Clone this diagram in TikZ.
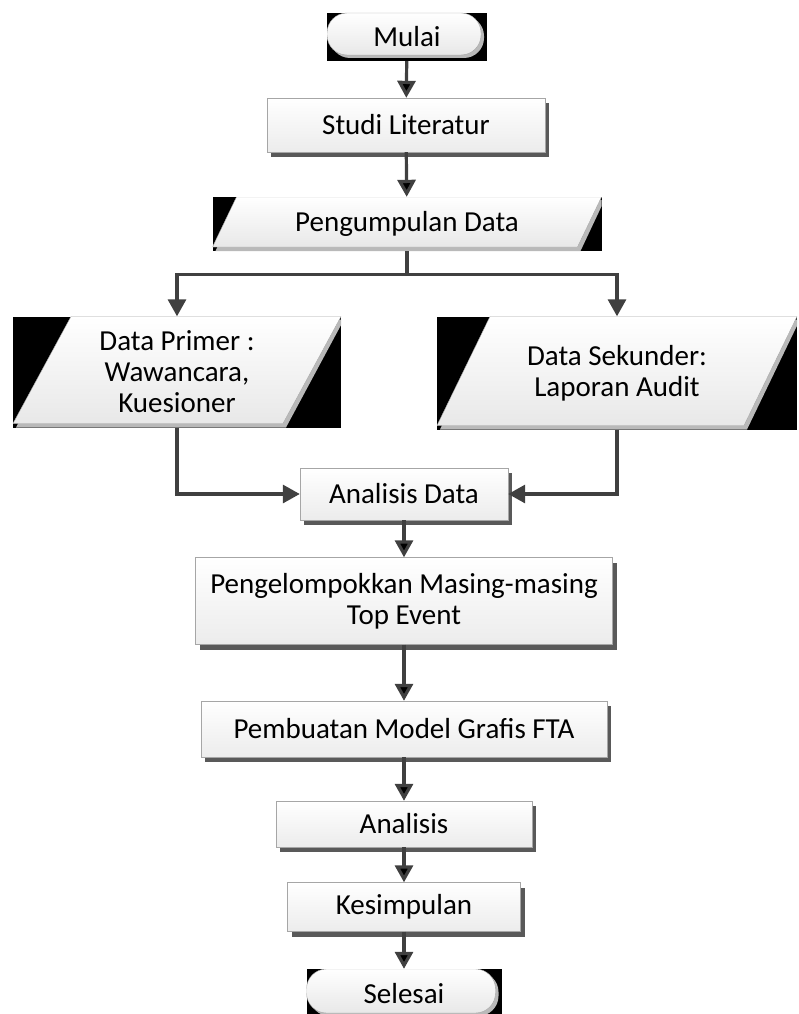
\documentclass[tikz,border=0pt]{standalone}
\usepackage{fontspec}
\setmainfont{Carlito}
\usetikzlibrary{shapes,arrows.meta,shadows}

\tikzset{
  flow/.style={draw=black!75, line width=3.2pt, -{Triangle[length=17pt,width=18pt]}},
  stepbox/.style={rectangle, draw=gray!70, top color=white, bottom color=gray!15,
    inner sep=0pt, align=center,
    drop shadow={shadow xshift=4pt, shadow yshift=-5pt, fill=black!65, opacity=1}},
  iobox/.style={rectangle, fill=black, inner sep=0pt, align=center,
    path picture={
      \fill [gray!55] ([xshift=#1+3pt,yshift=-3pt]path picture bounding box.north west)
        -- ([xshift=3pt,yshift=-3pt]path picture bounding box.north east)
        -- ([xshift=-#1+3pt]path picture bounding box.south east)
        -- ([xshift=3pt]path picture bounding box.south west) -- cycle;
      \shade [top color=white, bottom color=gray!18, draw=gray!70]
        ([xshift=#1]path picture bounding box.north west)
        -- (path picture bounding box.north east)
        -- ([xshift=-#1,yshift=4pt]path picture bounding box.south east)
        -- ([yshift=4pt]path picture bounding box.south west) -- cycle;
    }},
  termbox/.style={rectangle, fill=black, inner sep=0pt,
    path picture={
      \fill [gray!55, rounded corners=20pt]
        ([xshift=3pt,yshift=-3pt]path picture bounding box.north west)
        rectangle ([xshift=-3pt,yshift=3pt]path picture bounding box.south east);
      \shade [top color=white, bottom color=gray!18, draw=gray!70, rounded corners=20pt]
        (path picture bounding box.north west)
        rectangle ([xshift=-6pt,yshift=6pt]path picture bounding box.south east);
    }}
}

\begin{document}
\begin{tikzpicture}[x=1pt, y=-1pt, font=\fontsize{29}{31}\selectfont]
      \useasboundingbox (0,0) rectangle (798,1014);
      \node [termbox, minimum width=160pt, minimum height=48pt] (mulai) at (407, 37) {Mulai};
      \node [stepbox, minimum width=278pt, minimum height=54pt] (studi) at (406, 125) {Studi Literatur};
      \node [iobox=24pt, minimum width=389pt, minimum height=54pt] (pengumpulan) at (407, 224) {Pengumpulan Data};
      \node [iobox=58pt, minimum width=328pt, minimum height=111pt] (primer) at (177, 372) {Data Primer :\\ Wawancara,\\ Kuesioner};
      \node [iobox=53pt, minimum width=360pt, minimum height=113pt] (sekunder) at (617, 373) {Data Sekunder:\\ Laporan Audit};
      \node [stepbox, minimum width=208pt, minimum height=52pt] (analisisdata) at (404, 494) {Analisis Data};
      \node [stepbox, minimum width=417pt, minimum height=87pt] (pengelompokkan) at (404, 601) {Pengelompokkan Masing-masing\\ Top Event};
      \node [stepbox, minimum width=406pt, minimum height=56pt] (pembuatan) at (404, 729) {Pembuatan Model Grafis FTA};
      \node [stepbox, minimum width=256pt, minimum height=46pt] (analisis) at (404, 824) {Analisis};
      \node [stepbox, minimum width=233pt, minimum height=49pt] (kesimpulan) at (404, 907) {Kesimpulan};
      \node [termbox, minimum width=195pt, minimum height=50pt] (selesai) at (404, 994) {Selesai};
      \draw [flow] (mulai) edge (studi);
      \draw [flow] (studi) edge (pengumpulan);
      \draw [flow] (pengumpulan.south) -- ++(0,23) coordinate (split) -| (primer.north);
      \draw [flow] (split) -| (sekunder.north);
      \draw [flow] (primer.south) |- (analisisdata.west);
      \draw [flow] (sekunder.south) |- (analisisdata.east);
      \draw [flow] (analisisdata) edge (pengelompokkan);
      \draw [flow] (pengelompokkan) edge (pembuatan);
      \draw [flow] (pembuatan) edge (analisis);
      \draw [flow] (analisis) edge (kesimpulan);
      \draw [flow] (kesimpulan) edge (selesai);
    \end{tikzpicture}
\end{document}
